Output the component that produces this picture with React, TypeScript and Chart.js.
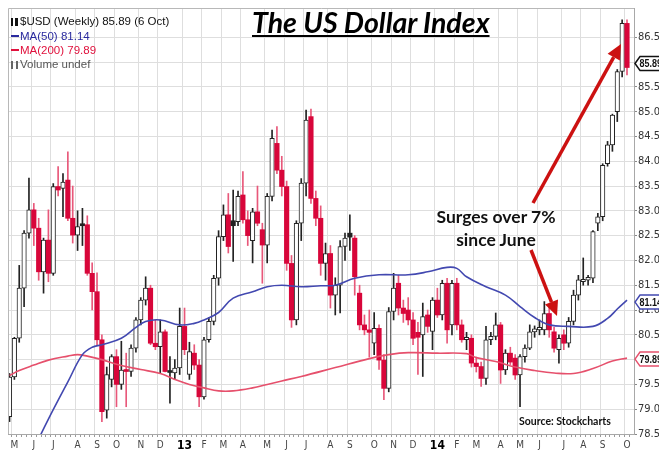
import React, { useEffect, useRef } from "react";
import { Chart, registerables } from "chart.js";

Chart.register(...registerables);

// Weekly candles: week 0 = 30 Apr 2012 ... week 127 = 6 Oct 2014
const opens = [
  78.85, 79.65, 80.43, 81.44, 82.55, 83.02, 82.65, 81.77, 82.41, 81.74,
  83.49, 83.45, 83.62, 82.85, 82.51, 82.74, 82.72, 81.74, 81.37, 80.4,
  78.98, 79.6, 80.06, 79.5, 79.8, 79.76, 80.23, 80.8, 81.2, 81.44,
  80.33, 80.26, 80.56, 79.78, 79.73, 79.83, 80.67, 79.7, 80.13, 79.89,
  79.25, 80.4, 80.77, 81.64, 82.48, 82.92, 82.8, 82.78, 83.32, 82.82,
  82.4, 82.98, 82.62, 82.31, 83.29, 84.36, 83.82, 83.49, 81.94, 80.8,
  82.75, 83.56, 84.9, 83.25, 82.85, 81.94, 82.14, 81.3, 81.5, 82.28,
  82.55, 82.45, 81.34, 80.7, 80.6, 80.33, 80.63, 79.99, 79.42, 80.97,
  81.54, 81.04, 81.0, 80.8, 80.55, 80.5, 80.9, 80.57, 81.2, 80.9,
  81.54, 80.7, 81.54, 80.7, 80.4, 80.43, 79.93, 79.86, 79.62, 80.4,
  80.47, 80.7, 79.79, 80.13, 80.03, 79.69, 80.06, 80.23, 80.56, 80.6,
  80.6, 80.93, 80.56, 80.2, 80.5, 80.33, 80.77, 81.3, 81.57, 81.6,
  81.64, 82.75, 82.88, 83.95, 84.33, 85.0, 85.81, 86.78,
];
const highs = [
  79.72, 80.45, 81.9, 82.6, 83.66, 83.15, 82.85, 82.45, 83.02, 83.55,
  83.89, 83.75, 84.19, 83.5, 83.0, 83.05, 82.9, 81.95, 81.75, 80.5,
  79.85, 80.1, 80.2, 80.37, 80.13, 80.3, 80.85, 81.25, 81.67, 81.5,
  80.8, 80.8, 80.6, 80.06, 80.0, 81.04, 81.04, 80.35, 80.3, 80.0,
  80.45, 80.85, 81.7, 82.6, 83.12, 83.35, 83.42, 83.4, 83.79, 83.0,
  83.05, 83.5, 82.75, 83.35, 84.63, 84.7, 84.1, 83.6, 82.1, 82.8,
  83.65, 85.03, 85.05, 83.4, 83.1, 82.35, 82.3, 81.65, 82.4, 82.55,
  82.92, 82.5, 81.5, 80.9, 81.0, 80.95, 80.7, 80.1, 81.05, 81.74,
  81.7, 81.2, 81.25, 80.95, 80.75, 81.14, 81.0, 81.25, 81.44, 81.6,
  81.64, 81.6, 81.64, 80.8, 80.55, 80.5, 80.05, 79.95, 80.67, 80.55,
  80.94, 80.75, 80.2, 80.25, 80.1, 80.1, 80.3, 80.7, 80.68, 80.8,
  81.17, 81.06, 80.65, 80.5, 80.6, 80.85, 81.4, 81.7, 82.05, 81.7,
  82.6, 82.95, 83.95, 84.4, 84.95, 85.85, 86.85, 86.85,
];
const lows = [
  78.75, 79.6, 80.35, 81.07, 82.45, 82.3, 81.6, 81.34, 81.57, 81.7,
  83.3, 82.88, 82.8, 82.35, 82.2, 82.3, 81.7, 81.0, 80.3, 78.75,
  78.82, 79.45, 79.05, 79.4, 79.05, 79.66, 80.15, 80.7, 81.1, 80.3,
  80.2, 79.72, 79.75, 79.12, 79.6, 79.7, 80.1, 79.6, 79.8, 79.05,
  79.2, 80.35, 80.7, 81.5, 82.4, 82.15, 81.98, 82.7, 82.75, 82.3,
  81.95, 82.7, 81.54, 81.95, 83.2, 83.75, 83.3, 81.8, 80.65, 80.7,
  82.4, 83.3, 83.15, 82.7, 81.7, 81.6, 81.04, 80.9, 80.94, 82.0,
  82.2, 81.3, 80.6, 80.5, 80.05, 80.1, 79.8, 79.19, 79.35, 80.8,
  80.9, 80.75, 80.7, 80.3, 79.7, 79.66, 80.55, 80.2, 80.85, 80.8,
  80.33, 80.5, 80.6, 80.35, 80.2, 79.85, 79.75, 79.46, 79.5, 80.3,
  80.4, 79.52, 79.7, 79.9, 79.6, 79.05, 79.95, 80.2, 80.45, 80.5,
  80.5, 80.45, 80.15, 79.93, 80.2, 80.25, 80.7, 81.2, 81.5, 81.5,
  81.55, 82.6, 82.8, 83.9, 84.2, 84.8, 85.7, 85.74,
];
const closes = [
  79.65, 80.43, 81.44, 82.55, 83.02, 82.65, 81.77, 82.41, 81.74, 83.49,
  83.42, 83.58, 82.85, 82.51, 82.68, 82.7, 81.74, 81.37, 80.4, 78.95,
  79.7, 80.06, 79.5, 79.79, 79.76, 80.23, 80.8, 81.2, 81.44, 80.33,
  80.26, 80.56, 79.76, 79.74, 79.83, 80.67, 80.2, 80.16, 79.89, 79.25,
  80.4, 80.77, 81.64, 82.48, 82.92, 82.28, 82.7, 83.29, 82.82, 82.5,
  82.98, 82.75, 82.31, 83.29, 84.46, 83.82, 83.49, 81.94, 80.8, 82.75,
  83.56, 84.83, 83.25, 82.85, 81.94, 82.14, 81.3, 81.5, 82.28, 82.45,
  82.47, 81.67, 80.7, 80.6, 80.55, 80.63, 79.99, 79.42, 80.97, 81.44,
  81.04, 80.93, 80.8, 80.43, 80.45, 80.87, 80.67, 81.2, 80.9, 81.54,
  80.6, 81.54, 80.7, 80.4, 80.45, 79.93, 79.86, 79.62, 80.4, 80.47,
  80.7, 79.79, 80.13, 79.95, 79.69, 80.06, 80.23, 80.56, 80.62, 80.65,
  80.93, 80.6, 80.23, 80.43, 80.33, 80.77, 81.3, 81.61, 81.62, 81.66,
  82.58, 82.88, 83.92, 84.33, 84.93, 85.81, 86.78, 85.89,
];
const filledBlackWeeks = [15, 33, 46, 70];

const monthTickWeeks = [1, 5, 9, 14, 18, 22, 27, 31, 36, 40, 44, 48, 53, 57, 61, 66, 70, 75, 79, 83, 88, 92, 96, 101, 105, 109, 114, 118, 122, 127];
const monthTickLabels = ["M", "J", "J", "A", "S", "O", "N", "D", "13", "F", "M", "A", "M", "J", "J", "A", "S", "O", "N", "D", "14", "F", "M", "A", "M", "J", "J", "A", "S", "O"];

const yTickValues = [78.5, 79, 79.5, 80, 80.5, 81, 81.5, 82, 82.5, 83, 83.5, 84, 84.5, 85, 85.5, 86, 86.5];

const ma50Weeks = [5, 8, 12, 15, 17, 19, 23, 26, 28, 31, 35, 38, 40, 43, 46, 50, 53, 56, 60, 64, 67, 71, 76, 82, 86, 90, 92, 94, 98, 102, 105, 108, 111, 115, 120, 123, 125, 127];
const ma50Values = [78.2, 78.8, 79.55, 80.1, 80.25, 80.3, 80.43, 80.65, 80.77, 80.8, 80.7, 80.73, 80.8, 80.95, 81.24, 81.37, 81.47, 81.5, 81.47, 81.49, 81.5, 81.64, 81.71, 81.71, 81.77, 81.86, 81.84, 81.67, 81.47, 81.3, 81.07, 80.85, 80.7, 80.67, 80.67, 80.83, 81.02, 81.2];

const ma200Weeks = [0, 2, 5, 8, 12, 14, 16, 19, 23, 27, 31, 34, 37, 40, 43, 46, 50, 53, 56, 60, 67, 74, 78, 82, 88, 94, 96, 100, 104, 108, 112, 116, 120, 124, 127];
const ma200Values = [79.68, 79.78, 79.89, 79.99, 80.07, 80.1, 80.07, 80.0, 79.88, 79.8, 79.72, 79.6, 79.5, 79.43, 79.37, 79.37, 79.43, 79.5, 79.57, 79.66, 79.84, 80.02, 80.1, 80.14, 80.13, 80.12, 80.04, 79.96, 79.85, 79.78, 79.73, 79.72, 79.82, 79.97, 80.03];

const legendClose = "85.89";
const legendMa50 = "81.14";
const legendMa200 = "79.89";

const RED = "#d8063a";
const RED_WICK = "#e8587a";
const INK = "#222222";
const BLUE_MA = "#4248b0";
const RED_MA = "#e6506c";
const NARROW = "'Liberation Sans Narrow', 'Arial Narrow', 'DejaVu Sans Condensed', 'Liberation Sans', sans-serif";

function candleKind(i: number): "up" | "down" | "black" {
  if (closes[i] >= opens[i]) return "up";
  return filledBlackWeeks.includes(i) ? "black" : "down";
}

function drawArrow(ctx: CanvasRenderingContext2D, x1: number, y1: number, x2: number, y2: number) {
  const ang = Math.atan2(y2 - y1, x2 - x1);
  const head = 15;
  const half = 7;
  const bx = x2 - head * Math.cos(ang);
  const by = y2 - head * Math.sin(ang);
  ctx.strokeStyle = "#cc1111";
  ctx.fillStyle = "#cc1111";
  ctx.lineWidth = 3.5;
  ctx.lineCap = "butt";
  ctx.beginPath();
  ctx.moveTo(x1, y1);
  ctx.lineTo(bx, by);
  ctx.stroke();
  ctx.beginPath();
  ctx.moveTo(x2, y2);
  ctx.lineTo(bx + half * Math.sin(ang), by - half * Math.cos(ang));
  ctx.lineTo(bx - half * Math.sin(ang), by + half * Math.cos(ang));
  ctx.closePath();
  ctx.fill();
}

function drawTag(ctx: CanvasRenderingContext2D, x: number, y: number, text: string, color: string) {
  ctx.save();
  ctx.beginPath();
  ctx.moveTo(x, y);
  ctx.lineTo(x + 5, y - 7);
  ctx.lineTo(662, y - 7);
  ctx.lineTo(662, y + 7);
  ctx.lineTo(x + 5, y + 7);
  ctx.closePath();
  ctx.fillStyle = "#ffffff";
  ctx.fill();
  ctx.strokeStyle = color;
  ctx.lineWidth = 1.5;
  ctx.stroke();
  ctx.fillStyle = "#111";
  ctx.font = "bold 11.5px 'Liberation Sans', Arial, sans-serif";
  ctx.textBaseline = "middle";
  ctx.textAlign = "left";
  ctx.translate(x + 4.5, y + 0.5);
  ctx.scale(0.78, 1);
  ctx.fillText(text, 0, 0);
  ctx.restore();
}

const overlayPlugin = {
  id: "overlay",
  beforeDraw(chart: any) {
    const { ctx, width, height } = chart;
    ctx.save();
    ctx.fillStyle = "#ffffff";
    ctx.fillRect(0, 0, width, height);
    ctx.restore();
  },
  afterDatasetsDraw(chart: any) {
    const { ctx } = chart;
    ctx.save();
    drawArrow(ctx, 533, 203, 621, 44);
    drawArrow(ctx, 531, 250, 557, 316);
    ctx.restore();
  },
  afterDraw(chart: any) {
    const { ctx, chartArea } = chart;
    const ys = chart.scales.y;
    ctx.save();
    ctx.strokeStyle = "#b8b8b8";
    ctx.lineWidth = 1;
    ctx.beginPath();
    ctx.moveTo(chartArea.left + 0.5, chartArea.bottom);
    ctx.lineTo(chartArea.left + 0.5, chartArea.top + 0.5);
    ctx.lineTo(chartArea.right, chartArea.top + 0.5);
    ctx.stroke();
    ctx.restore();
    const last = closes.length - 1;
    drawTag(ctx, chartArea.right + 1, ys.getPixelForValue(closes[last]) - 4, legendClose, "#111");
    drawTag(ctx, chartArea.right + 1, ys.getPixelForValue(ma50Values[ma50Values.length - 1]) + 2, legendMa50, BLUE_MA);
    drawTag(ctx, chartArea.right + 1, ys.getPixelForValue(ma200Values[ma200Values.length - 1]) + 1, legendMa200, RED_MA);
  },
};

export default function App() {
  const canvasRef = useRef<HTMLCanvasElement | null>(null);

  useEffect(() => {
    const canvas = canvasRef.current;
    if (!canvas) return;
    const idx = closes.map((_, i) => i);
    const wickColors = idx.map((i) => (candleKind(i) === "down" ? RED_WICK : INK));
    const bodyFill = idx.map((i) => {
      const k = candleKind(i);
      return k === "up" ? "#ffffff" : k === "black" ? INK : RED;
    });
    const bodyBorder = idx.map((i) => (candleKind(i) === "down" ? RED : INK));
    const bodyBorderW = idx.map((i) => (candleKind(i) === "up" ? 1 : 0));

    const chart = new Chart(canvas, {
      type: "bar",
      data: {
        datasets: [
          {
            type: "line",
            label: "MA(50)",
            data: ma50Weeks.map((w, i) => ({ x: w, y: ma50Values[i] })),
            borderColor: BLUE_MA,
            borderWidth: 1.6,
            pointRadius: 0,
            tension: 0.4,
            order: 0,
          } as any,
          {
            type: "line",
            label: "MA(200)",
            data: ma200Weeks.map((w, i) => ({ x: w, y: ma200Values[i] })),
            borderColor: RED_MA,
            borderWidth: 1.6,
            pointRadius: 0,
            tension: 0.4,
            order: 0,
          } as any,
          {
            type: "bar",
            label: "body",
            data: idx.map((i) => ({ x: i, y: [opens[i], closes[i]] })),
            backgroundColor: bodyFill,
            borderColor: bodyBorder,
            borderWidth: bodyBorderW,
            borderSkipped: false,
            barThickness: 4.5,
            grouped: false,
            order: 1,
          } as any,
          {
            type: "bar",
            label: "wick",
            data: idx.map((i) => ({ x: i, y: [lows[i], highs[i]] })),
            backgroundColor: wickColors,
            borderWidth: 0,
            barThickness: 1,
            grouped: false,
            order: 2,
          } as any,
        ],
      },
      options: {
        animation: false,
        responsive: false,
        maintainAspectRatio: false,
        layout: { padding: { left: 8, top: 8, right: 0, bottom: 0 } },
        plugins: {
          legend: { display: false },
          tooltip: { enabled: false },
          title: { display: false },
        },
        scales: {
          x: {
            type: "linear",
            offset: false,
            min: -0.31,
            max: 128.44,
            afterBuildTicks: (scale: any) => {
              scale.ticks = idx.map((i) => ({ value: i }));
            },
            afterFit: (scale: any) => {
              scale.height = 17;
            },
            grid: {
              color: (ctx: any) =>
                ctx.tick && monthTickWeeks.includes(ctx.tick.value) ? "#dedede" : "rgba(0,0,0,0)",
              tickColor: "#9a9a9a",
              tickLength: 3,
              drawTicks: true,
            },
            border: { display: true, color: "#a8a8a8" },
            ticks: {
              autoSkip: false,
              maxRotation: 0,
              minRotation: 0,
              padding: 2,
              callback: (v: any) => {
                const k = monthTickWeeks.indexOf(Number(v));
                return k >= 0 ? monthTickLabels[k] : "";
              },
              color: (ctx: any) => (/^\d+$/.test(String(ctx.tick?.label)) ? "#000" : "#444"),
              font: (ctx: any) =>
                /^\d+$/.test(String(ctx.tick?.label))
                  ? { family: NARROW, size: 12, weight: "bold" }
                  : { family: NARROW, size: 10 },
            },
          },
          y: {
            type: "linear",
            position: "right",
            min: 78.5,
            max: 87.09,
            afterBuildTicks: (scale: any) => {
              scale.ticks = yTickValues.map((v) => ({ value: v }));
            },
            afterFit: (scale: any) => {
              scale.width = 25;
            },
            grid: { color: "#dedede", tickColor: "#888", tickLength: 3 },
            border: { display: true, color: "#a8a8a8" },
            ticks: {
              padding: 1,
              color: "#333",
              font: { family: NARROW, size: 11 },
              callback: (v: any) => Number(v).toFixed(1),
            },
          },
        },
      },
      plugins: [overlayPlugin],
    });
    return () => chart.destroy();
  }, []);

  const abs: React.CSSProperties = { position: "absolute", margin: 0, whiteSpace: "nowrap" };
  const legendFont: React.CSSProperties = {
    fontFamily: "'Liberation Sans', Arial, sans-serif",
    fontSize: 11.5,
    lineHeight: "14px",
  };

  return (
    <div style={{ position: "fixed", left: 0, top: 0, width: 659, height: 451, background: "#fff", overflow: "hidden" }}>
      <canvas ref={canvasRef} width={659} height={451} style={{ display: "block", width: 659, height: 451 }} />
      <div
        style={{
          ...abs,
          left: 252,
          top: 6,
          fontFamily: "Lato, 'Open Sans', sans-serif",
          fontWeight: 700,
          fontStyle: "italic",
          fontSize: 28.5,
          lineHeight: "32px",
          textDecoration: "underline",
          textDecorationThickness: "2px",
          textUnderlineOffset: "2px",
          color: "#000",
        }}
      >
        The US Dollar Index
      </div>
      <div style={{ ...abs, ...legendFont, left: 11, top: 14, color: "#111" }}>
        <span style={{ display: "inline-block", width: 7, height: 8, marginRight: 2, borderLeft: "2px solid #111", borderRight: "3px solid #111", verticalAlign: "-1px", boxSizing: "border-box" }} />
        $USD (Weekly) {legendClose} (6 Oct)
      </div>
      <div style={{ ...abs, ...legendFont, left: 11, top: 29, color: "#2a2a9e" }}>
        <span style={{ display: "inline-block", width: 8, height: 2, background: "#2a2a9e", verticalAlign: "3px", marginRight: 1 }} />
        MA(50) {legendMa50}
      </div>
      <div style={{ ...abs, ...legendFont, left: 11, top: 43, color: "#e0103c" }}>
        <span style={{ display: "inline-block", width: 8, height: 2, background: "#e0103c", verticalAlign: "3px", marginRight: 1 }} />
        MA(200) {legendMa200}
      </div>
      <div style={{ ...abs, ...legendFont, left: 11, top: 57, color: "#555" }}>
        <span style={{ display: "inline-block", width: 7, height: 8, marginRight: 2, borderLeft: "2px solid #666", borderRight: "2px solid #666", verticalAlign: "-1px", boxSizing: "border-box" }} />
        Volume undef
      </div>
      <div
        style={{
          ...abs,
          left: 416,
          top: 205,
          width: 160,
          textAlign: "center",
          fontFamily: "Lato, 'Open Sans', sans-serif",
          fontWeight: 700,
          fontSize: 17.5,
          lineHeight: "23px",
          color: "#111",
          textShadow: "0 0 2px #fff, 0 0 2px #fff",
        }}
      >
        Surges over 7%
        <br />
        since June
      </div>
      <div
        style={{
          ...abs,
          left: 519,
          top: 414,
          fontFamily: "Lato, 'Open Sans', sans-serif",
          fontWeight: 700,
          fontSize: 10.5,
          lineHeight: "14px",
          color: "#111",
        }}
      >
        Source: Stockcharts
      </div>
    </div>
  );
}
